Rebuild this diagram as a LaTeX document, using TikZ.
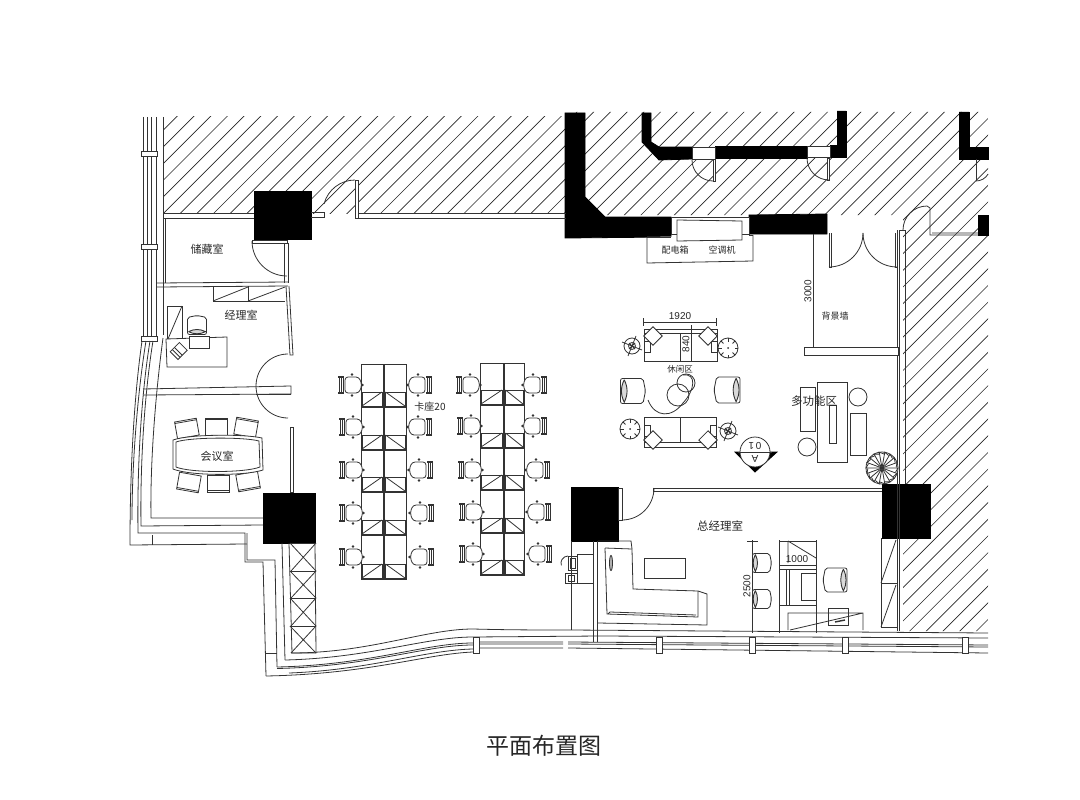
\documentclass[tikz,border=0pt]{standalone}
\usepackage{fontspec}
\setmainfont{Liberation Sans}
\newfontfamily\cjk{Noto Sans CJK SC}
\begin{document}
\begin{tikzpicture}[
    x=1pt, y=-1pt,
    line width=0.8pt, draw=black!80,
    solid black/.style={fill=black, draw=black},
    hatchline/.style={line width=0.65pt, draw=black!85},
    label/.style={font=\fontsize{#1}{#1}\selectfont\cjk, text=black!85, inner sep=0pt},
    size/.style={font=\fontsize{10}{10}\selectfont, text=black!85, inner sep=0pt},
    deskchair/.pic={
        \draw[rounded corners=3pt, fill=white] (-7,-8) -- (7,-8) -- (10,0) -- (7,8) -- (-7,8) -- cycle;
        \draw[line width=1pt] (-13,-8) -- (-13,8);
        \draw (-9,-7) -- (-9,7) (-11,-7) -- (-11,7);
        \draw[line width=1.2pt] (-14,-8) -- (-8,-8) (-14,8) -- (-8,8);
        \fill[black!80] (0,-10.5) circle (1.3) (0,10.5) circle (1.3) (10.5,0) circle (1.3);
    },
    softchair/.pic={
        \draw[rounded corners=2pt, fill=white] (-10,-10) -- (8,-10) -- (10,0) -- (8,10) -- (-10,10) -- cycle;
        \draw[line width=0.9pt, fill=black!15] (-7,-9) .. controls (-10,-3) and (-10,3) .. (-7,9)
            .. controls (-4,3) and (-4,-3) .. (-7,-9);
    },
    meetchair/.pic={
        \draw[fill=white] (-11,-9) rectangle (11,8);
        \draw (-11,-7.5) -- (11,-7.5);
    },
    floorlamp/.pic={
        \draw (0,0) circle (8);
        \draw (0,0) circle (3.5);
        \draw (-10,-4) -- (10,4) (-4,10) -- (4,-10);
        \draw (-3,-3) -- (3,3) (-3,3) -- (3,-3);
    },
    dialplant/.pic={
        \draw (0,0) circle (10);
        \foreach \a in {0,45,...,315}
            \draw[line width=1pt] (\a:10) -- (\a:6.5);
        \fill[black!80] (0,0) circle (1);
    },
    cushion/.pic={
        \draw[fill=white, rotate=45] (-6.5,-6.5) rectangle (6.5,6.5);
    }
]

% Hatched areas
\begin{scope}
\clip (163,117) -- (566,117) -- (566,213) -- (163,213) -- cycle;
\foreach \c in {0,...,50}
    \draw[hatchline] ({260+16.7*\c},0) -- (0,{260+16.7*\c});
\end{scope}
\begin{scope}
\clip (566,112) -- (988,112) -- (988,631) -- (903,631) -- (903,230) -- (903,215) -- (566,215) -- cycle;
\foreach \c in {0,...,60}
    \draw[hatchline] ({689+16.7*\c},0) -- (0,{689+16.7*\c});
\end{scope}

% Columns and black walls
\fill[solid black] (254,191) rectangle (311,239);
\fill[solid black] (263,493) rectangle (315,543);
\fill[solid black] (571,487) rectangle (618,541);
\fill[solid black] (882,484) rectangle (930,538);
\fill[solid black] (565,113) -- (585,113) -- (585,197) -- (605,217) -- (671,217) -- (671,237) -- (565,238) -- cycle;
\fill[solid black] (749,215) -- (827,214) -- (827,234) -- (749,234) -- cycle;
\fill[solid black] (642,113) -- (651,113) -- (651,142) -- (659,147) -- (692,147) -- (692,159) -- (659,160) -- (642,142) -- cycle;
\fill[solid black] (715,146) rectangle (807,158);
\fill[solid black] (830,145) -- (837,145) -- (837,111) -- (846,111) -- (846,157) -- (830,157) -- cycle;
\fill[solid black] (959,112) -- (969,112) -- (969,147) -- (988,147) -- (988,159) -- (959,159) -- cycle;
\fill[solid black] (978,215) rectangle (988,235);

% Upper doors and windows
\draw[fill=white] (692,147) rectangle (715,159);
\draw[fill=white] (807,146) rectangle (830,157);
\draw[fill=white] (713,159) rectangle (715,181);
\draw (692,160) arc[start angle=180, end angle=90, radius=21];
\draw[fill=white] (827,158) rectangle (829,180);
\draw (807,158) arc[start angle=180, end angle=90, radius=22];
\draw (976,159) -- (976,181);
\draw (976,181) arc[start angle=90, end angle=30, radius=14];

% Air conditioner recess
\draw[fill=white] (671,217) rectangle (749,234);
\draw[fill=white] (647,237) -- (647,263) -- (753,261) -- (753,235);
\draw[fill=white] (677,220) -- (742,221) -- (742,240) -- (677,241) -- cycle;
\draw (647,237) -- (671,237) (749,235) -- (753,235);

% Upper left wall and storage room
\draw (163,213) -- (254,213) (163,218) -- (254,218);
\draw (311,212) -- (324,212) -- (324,217) -- (311,217);
\draw (358,213) -- (566,213) (358,218) -- (566,218);
\draw[fill=white] (355,180) rectangle (358,218);
\draw (355,180) arc[start angle=-90, end angle=-165, radius=32];
\draw (252,240) rectangle (287,243);
\draw (252,241) arc[start angle=180, end angle=90, radius=35];
\draw (284,243) -- (284,283) (288,243) -- (288,283);
\draw (157,283) -- (288,282) (157,287) -- (288,286);
\draw (286,286) -- (290,355) -- (293,355) -- (289,286);
\draw (213,286) -- (213,301) -- (285,301);
\draw (248,286) -- (248,301);
\draw (213,301) -- (248,287) (248,301) -- (285,287);

% Manager room
\draw (166,339) -- (227,337) -- (227,367) -- (167,367) -- cycle;
\draw (167,339) -- (167,306) -- (182,306) -- (182,339);
\draw (182,306) -- (168,339);
\pic[rotate=90, scale=0.95] at (197,325) {softchair};
\draw[fill=white] (189,336) rectangle (209,348);
\draw[fill=white, rotate around={45:(178,351)}] (172,346) rectangle (185,357);
\draw[rotate around={45:(178,351)}] (175,346) -- (175,357) (178,346) -- (178,357);
\draw (288,354) arc[start angle=-90, end angle=-180, radius=32];
\draw (143,389) -- (291,386) -- (291,394) -- (143,395);
\draw (256,386) arc[start angle=180, end angle=90, radius=32];
\draw (256,394) -- (291,394);
\draw (290,427) rectangle (293,492);

% Meeting room
\pic[rotate=10] at (187,429) {meetchair};
\pic at (216,427) {meetchair};
\pic[rotate=-10] at (246,428) {meetchair};
\pic[rotate=170] at (189,482) {meetchair};
\pic[rotate=180] at (218,483) {meetchair};
\pic[rotate=190] at (248,481) {meetchair};
\draw[fill=white] (173,440) .. controls (190,434) and (245,434) .. (262,438) -- (263,470)
    .. controls (245,476) and (190,476) .. (173,469) -- cycle;
\draw (176,442) .. controls (190,437) and (245,437) .. (259,441) -- (260,467)
    .. controls (245,473) and (190,473) .. (176,467) -- cycle;

% Curved facade, left side
\draw (143,117) -- (143,338) (147,117) -- (147,338) (151,117) -- (151,338) (156,117) -- (156,338);
\draw (163,117) -- (163,335) (165,218) -- (165,283);
\foreach \y in {151,244,336}
    \draw[fill=white] (141,\y) rectangle (157,\y+5);
\draw (142,341) .. controls (135,390) and (130,460) .. (130,545) -- (247,544);
\draw (146,341) .. controls (138,390) and (132,460) .. (132,520);
\draw (150,341) .. controls (142,390) and (137,460) .. (138,533) -- (245,533) -- (245,543);
\draw (153,341) .. controls (145,390) and (140,460) .. (141,526) -- (263,525);
\draw (163,338) .. controls (156,390) and (150,460) .. (151,518) -- (263,518);
\draw (152,535) -- (152,545);
\draw (247,533) -- (247,560) -- (275,560) -- (277,667);
\draw (245,543) -- (245,562) -- (263,562) -- (266,676);
\draw (266,653) -- (277,653);
\draw (282,543) -- (285,660);

% X braced shaft
\draw (289,543) -- (292,653) -- (316,653) -- (315,543);
\foreach \ya/\yb in {543/571,571/598,598/626,626/653} {
    \draw (289.5,\ya) -- (316,\ya);
    \draw (290,\ya) -- (316,\yb) (316,\ya) -- (291,\yb);
}

% Curved facade, bottom side
\draw (291,653) .. controls (370,653) and (425,629) .. (473,629) .. controls (510,630) and (540,630) .. (570,630) -- (988,633);
\draw (285,660) .. controls (370,658) and (425,637) .. (473,637) -- (600,636) -- (988,638);
\draw (277,667) .. controls (370,665) and (425,643) .. (473,643);
\draw (277,668.5) .. controls (370,666.5) and (425,645) .. (473,645);
\draw (289,673) .. controls (370,670) and (425,650) .. (473,649);
\draw (266,676) .. controls (370,674) and (425,654) .. (473,652);
\draw (479,642) -- (563,642) (568,642) -- (988,645);
\draw (479,644) -- (563,644) (568,644) -- (988,647);
\draw (479,648) -- (563,648) (568,648) -- (988,653);
\foreach \x in {473,656,749,842,962}
    \draw[fill=white] (\x,637) rectangle (\x+6,653);

% Workstations
\foreach \xa/\xc/\xb/\ya/\yb/\yc/\yd/\ye/\yf in {361/383/406/364/407/450/492/535/579, 480/503/524/363/405/448/490/533/575} {
    \draw (\xa,\ya) -- (\xb,\ya) -- (\xb,\yf) -- (\xa,\yf) -- cycle;
    \draw (\xc,\ya) -- (\xc,\yf);
    \draw (\xc+1.5,\ya) -- (\xc+1.5,\yf);
    \foreach \yr in {\yb,\yc,\yd,\ye,\yf} {
        \draw (\xa,\yr) -- (\xb,\yr);
        \draw (\xa+1,\yr-15) rectangle (\xc-1,\yr-1);
        \draw (\xc+2.5,\yr-15) rectangle (\xb-1,\yr-1);
        \draw (\xa+1,\yr-1) -- (\xc-1,\yr-15);
        \draw (\xc+2.5,\yr-15) -- (\xb-1,\yr-1);
    }
}
\foreach \xl/\xr/\yy in {352/418/385, 353/418/427, 353/419/470, 353/420/513, 353/420/557} {
    \pic at (\xl,\yy) {deskchair};
    \pic[xscale=-1] at (\xr,\yy) {deskchair};
}
\foreach \xl/\xr/\yy in {470/533/385, 471/533/426, 472/536/470, 473/537/512, 473/538/554} {
    \pic at (\xl,\yy) {deskchair};
    \pic[xscale=-1] at (\xr,\yy) {deskchair};
}

% Lounge
\draw (644,329) rectangle (717,361);
\draw (644,333) -- (717,333) (680,333) -- (680,361);
\draw (644,341) -- (650,341) -- (650,352) -- (644,352) (717,341) -- (711,341) -- (711,352) -- (717,352);
\draw[|-|] (643,322) -- (717,322);
\draw (691,325) -- (691,361);
\pic at (653,336) {cushion};
\pic at (708,336) {cushion};
\pic at (632,346) {floorlamp};
\pic at (728,348) {dialplant};
\draw (644,417) rectangle (716,447);
\draw (644,442) -- (716,442) (680,417) -- (680,442);
\draw (644,425) -- (650,425) -- (650,436) -- (644,436) (716,425) -- (710,425) -- (710,436) -- (716,436);
\pic at (653,440) {cushion};
\pic at (708,440) {cushion};
\pic at (630,429) {dialplant};
\pic at (728,431) {floorlamp};
\pic[scale=1.25] at (633,391) {softchair};
\pic[xscale=-1.3, yscale=1.3] at (727,390) {softchair};
\draw (648,400) .. controls (655,418) and (672,418) .. (683,403) .. controls (695,390) and (697,373) .. (683,375);
\draw (678,395) circle (11);
\draw (686,383) circle (9);

% Section mark
\fill[solid black] (735,452) -- (777,452) -- (755,472) -- cycle;
\draw[fill=white] (755,452) circle (15);
\draw (738,452) -- (772,452);

% Multifunction area and background wall
\draw (829,233) -- (829,267) -- (831,267) -- (831,233);
\draw (829,267) arc[start angle=90, end angle=0, radius=34];
\draw (897,267) arc[start angle=90, end angle=180, radius=34];
\draw (895,233) -- (895,267) -- (897,267);
\draw (897,230) -- (897,631) (899.5,230) -- (899.5,631) (905,230) -- (905,484);
\draw (899.5,230) -- (905,230);
\draw (903,230) arc[start angle=180, end angle=270, radius=24];
\draw (927,206) -- (930,208) -- (930,235) -- (978,235) (932,233) -- (978,233);
\draw (813,234) -- (813,348);
\draw[fill=white] (804,347) rectangle (898,355);
\draw (800,387) rectangle (815,431);
\draw (817,382) rectangle (847,462);
\draw (829,405) rectangle (836,443);
\draw (850,413) rectangle (866,455);
\draw (858,397) circle (9);
\draw (807,447) circle (9);
\draw[fill=white] (882,468) circle (16);
\foreach \a in {0,20,...,340}
    \draw (882,468) -- ++(\a:16) -- ++(\a+120:5);

% General manager room
\draw (653,488) -- (882,488) (653,491) -- (882,491) (653,488) -- (653,491);
\draw (618,488) rectangle (622,520);
\draw (622,520) arc[start angle=90, end angle=0, radius=32];
\draw (571,541) -- (571,630);
\draw (593,541) -- (593,642) (597,541) -- (597,642);
\draw (577,554) rectangle (593,583);
\draw (568,556) rectangle (577,570);
\draw (565,573) rectangle (577,583);
\draw[line width=1pt] (570,558) rectangle (575,568);
\draw[line width=1pt] (568,575) rectangle (574,581);
\draw (568,556) arc[start angle=-90, end angle=-200, radius=7];
\draw (598,541) -- (631,541) -- (632,549) -- (633,589) -- (698,591) -- (707,594) -- (707,625) -- (598,623);
\draw (605,548) -- (632,549) (605,548) -- (607,614) -- (698,617) -- (698,591);
\draw (608,614) -- (610,612) -- (696,615);
\draw[fill=black!30] (611,563) ellipse (1.5 and 7.5);
\draw (644,558) rectangle (685,578);
\draw (752,540) -- (752,633) (747,541) -- (758,541);
\pic[scale=0.95] at (762,563) {softchair};
\pic[scale=0.95] at (762,599) {softchair};
\draw (779,540) -- (779,633) (816,540) -- (816,633);
\draw (779,541) -- (816,541) (779,565) -- (816,565);
\draw (788,541) -- (788,563) (788,541) -- (816,558);
\draw (779,569) -- (816,569) (779,605) -- (816,605);
\draw (786,569) -- (786,605) (789,569) -- (789,605);
\draw (801,573) rectangle (816,600);
\pic[xscale=-1.2, yscale=1.2] at (835,580) {softchair};
\draw (788,630) -- (788,613) -- (863,613) -- (863,630) (790,630) -- (863,613);
\draw (828,608) rectangle (848,625);
\draw[line width=1.4pt] (835,622) -- (845,620);
\draw (881,538) -- (881,627) -- (897,627) (881,583) -- (897,583);
\draw (881,583) -- (896,540) (881,627) -- (896,585);

% Nodes
\node[label=11] (storage) at (207,249) {储藏室};
\node[label=11] (manager) at (241,315) {经理室};
\node[label=11] (meeting) at (217,456) {会议室};
\node[label=10] (seats) at (430,407) {卡座20};
\node[label=9] (panel) at (675,250) {配电箱};
\node[label=9] (aircon) at (722,250) {空调机};
\node[label=9] (backwall) at (835,316) {背景墙};
\node[label=8.5] (lounge) at (680,369) {休闲区};
\node[label=11.5] (multi) at (814,401) {多功能区};
\node[label=11.5] (gmroom) at (720,526) {总经理室};
\node[label=23] (title) at (544,746) {平面布置图};
\node[size] (sofawidth) at (680,316) {1920};
\node[size, rotate=90] (sofadepth) at (686,344) {840};
\node[size, rotate=90] (wallheight) at (808,291) {3000};
\node[size, rotate=90] (roomdim) at (747,586) {2500};
\node[size] (deskwidth) at (797,559) {1000};
\node[size, rotate=180] (secnum) at (755,446) {0\,1};
\node[size, rotate=180] (secletter) at (755,459) {A};

\useasboundingbox (0,0) rectangle (1080,800);
\end{tikzpicture}
\end{document}
